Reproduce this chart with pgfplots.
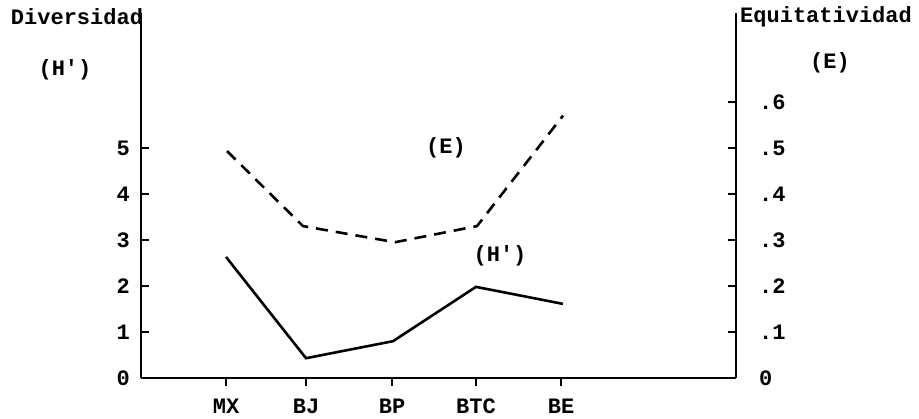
\documentclass[border=0pt]{standalone}
\usepackage{pgfplots}
\pgfplotsset{compat=1.18}
\usepackage{fontspec}
\setmonofont{Liberation Mono}
\begin{document}
\begin{tikzpicture}[font=\fontsize{11}{13}\selectfont\ttfamily\bfseries]
\path[use as bounding box] (-70.5pt,-20pt) rectangle (389pt,189pt);
\begin{axis}[
  at={(0,0)}, anchor=south west,
  scale only axis, width=297.5pt, height=182.5pt,
  xmin=0, xmax=595, ymin=0, ymax=7.93,
  axis x line=bottom, axis y line=left,
  axis line style={-, line width=1.4pt},
  xtick={85,165,251,335,420},
  xticklabels={MX,BJ,BP,BTC,BE},
  x tick label style={yshift=-7pt},
  ytick={0,1,2,3,4,5},
  yticklabels={0,1,2,3,4,5},
  y tick label style={xshift=-2pt},
  tick align=inside,
  major tick length=4pt,
  xtick style={line width=1pt, black, yshift=-4pt},
  ytick style={line width=1pt, black},
  clip=false,
]
\addplot[black, line width=1.3pt] coordinates {
 (85,2.63) (165,0.43) (252,0.80) (335,1.98) (422,1.61)};
\addplot[black, line width=1.3pt, dash pattern=on 6pt off 4pt] coordinates {
 (86,4.93) (162,3.30) (254,2.95) (336,3.30) (422,5.70)};
\node at (axis cs:305,5.0) {(E)};
\node at (axis cs:359,2.65) {(H')};
\end{axis}
\begin{axis}[
  at={(0,0)}, anchor=south west,
  scale only axis, width=297.5pt, height=182.5pt,
  xmin=0, xmax=595, ymin=0, ymax=0.793,
  axis x line=none, axis y line=right,
  axis line style={-, line width=1.4pt},
  ytick={0,0.1,0.2,0.3,0.4,0.5,0.6},
  yticklabels={0,.1,.2,.3,.4,.5,.6},
  y tick label style={xshift=8pt},
  tick align=inside,
  ytick style={line width=1pt, black},
  major tick length=4pt,
]
\end{axis}
\node at (-32pt,180.5pt) {Diversidad};
\node at (-38pt,154pt) {(H')};
\node at (342.5pt,180.5pt) {Equitatividad};
\node at (344.5pt,157.5pt) {(E)};
\end{tikzpicture}
\end{document}
